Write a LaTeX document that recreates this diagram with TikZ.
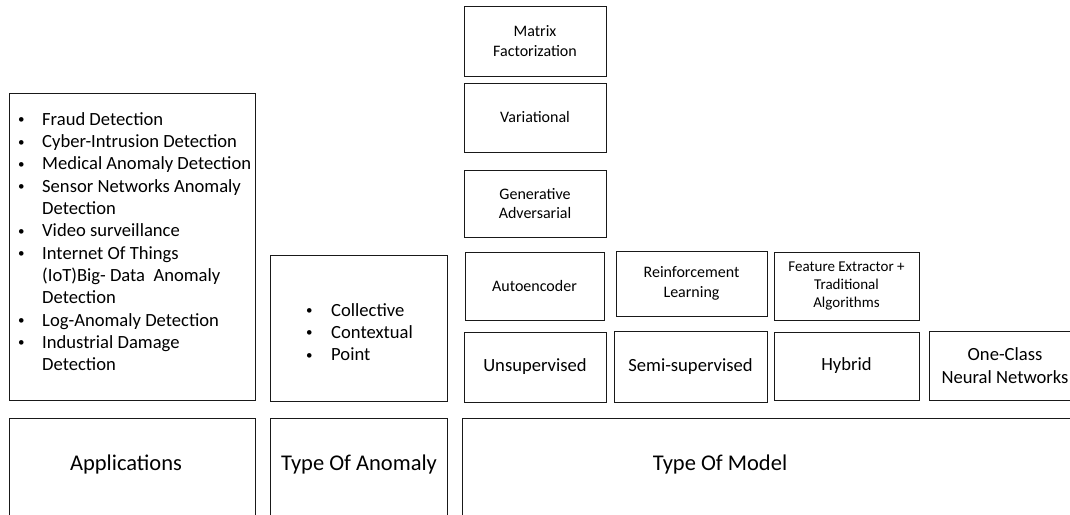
\documentclass[tikz,border=0pt]{standalone}
\usepackage{fontspec}
\setmainfont{Carlito}
\usepackage{tikz}
\usepackage{xcolor}
\newcommand{\blt}{\raisebox{1.6pt}{\fontsize{13}{13}\selectfont\textbullet}}
\tikzset{cell/.style={draw=black!90,line width=1pt,inner sep=0pt,align=center},
 smalltext/.style={font=\fontsize{16}{19.5}\selectfont},
 featuretext/.style={font=\fontsize{15}{18}\selectfont},
 bigtext/.style={font=\fontsize{18.6}{22.3}\selectfont},
 headtext/.style={font=\fontsize{22.5}{27}\selectfont},
 listtext/.style={font=\fontsize{18.6}{22.3}\selectfont,inner sep=0pt,anchor=west},
 }

\begin{document}
\begin{tikzpicture}[x=1pt,y=-1pt]
        \useasboundingbox (0,0) rectangle (1070,514);
        \clip (0,0) rectangle (1070,514);
        % upper model boxes
        \node[cell,smalltext,minimum width=142pt,minimum height=70pt] (matfac) at (535,41) {Matrix\\Factorization};
        \node[cell,smalltext,minimum width=142pt,minimum height=69pt] (varia) at (535,117.5) {Variational};
        \node[cell,smalltext,minimum width=142pt,minimum height=67pt] (genadv) at (535,203.5) {Generative\\Adversarial};
        \node[cell,smalltext,minimum width=139pt,minimum height=68pt] (autoenc) at (534.5,286) {Autoencoder};
        \node[cell,smalltext,minimum width=151pt,minimum height=65pt] (reinf) at (691.5,283.5) {Reinforcement\\Learning};
        \node[cell,featuretext,minimum width=145pt,minimum height=68pt] (featext) at (846.5,286) {Feature Extractor +\\Traditional\\Algorithms};
        % lower model boxes
        \node[cell,bigtext,minimum width=142pt,minimum height=70pt] (unsup) at (535,367) {Unsupervised};
        \node[cell,bigtext,minimum width=153pt,minimum height=71pt] (semisup) at (690.5,366.5) {Semi-supervised};
        \node[cell,bigtext,minimum width=145pt,minimum height=68pt] (hybrid) at (846.5,366) {Hybrid};
        \node[cell,bigtext,minimum width=152pt,minimum height=69pt] (oneclass) at (1005,365.5) {One-Class\\Neural Networks};
        % list boxes
        \node[cell,minimum width=246pt,minimum height=307pt] (applist) at (132,246.5) {};
        \node[listtext] (appitems) at (18,243.5) {\begin{tabular}{@{}p{24pt}@{}l@{}}
            \blt & Fraud Detection\\
            \blt & Cyber-Intrusion Detection\\
            \blt & Medical Anomaly Detection\\
            \blt & Sensor Networks Anomaly\\
                 & Detection\\
            \blt & Video surveillance\\
            \blt & Internet Of Things\\
                 & (IoT)Big- Data\ \ Anomaly\\
                 & Detection\\
            \blt & Log-Anomaly Detection\\
            \blt & Industrial Damage\\
                 & Detection
        \end{tabular}};
        \node[cell,minimum width=177pt,minimum height=146pt] (anolist) at (358.5,328) {};
        \node[listtext] (anoitems) at (306,334) {\begin{tabular}{@{}p{25pt}@{}l@{}}
            \blt & Collective\\
            \blt & Contextual\\
            \blt & Point
        \end{tabular}};
        % bottom row
        \node[cell,minimum width=246pt,minimum height=112pt] (appbox) at (132,474) {};
        \node[cell,minimum width=177pt,minimum height=112pt] (anobox) at (358.5,474) {};
        \node[cell,minimum width=628pt,minimum height=112pt] (modelbox) at (776,474) {};
        \node[headtext] (applbl) at (126,464) {Applications};
        \node[headtext] (anolbl) at (359,464) {Type Of Anomaly};
        \node[headtext] (modellbl) at (720,464) {Type Of Model};
    \end{tikzpicture}
\end{document}
